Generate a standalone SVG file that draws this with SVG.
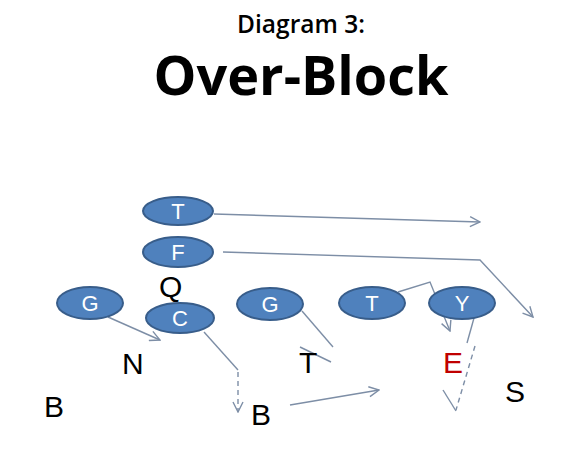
<svg xmlns="http://www.w3.org/2000/svg" width="570" height="457" viewBox="0 0 570 457">
<style>
.pl ellipse{fill:#4f81bd;stroke:#385d8a;stroke-width:2}
.pl text{fill:#fff;font-family:"Liberation Sans",Arial,sans-serif;font-size:22px;text-anchor:middle}
.lbl{font-family:"Liberation Sans",Arial,sans-serif;font-size:30px;fill:#000}
.ln{fill:none;stroke:#7d8ea6;stroke-width:1.4}
.dash{stroke-dasharray:5,4}
.title{font-family:"Open Sans","Liberation Sans",sans-serif;text-anchor:middle;fill:#000}
</style>
<defs>
<marker id="ah" markerWidth="12" markerHeight="12" refX="11" refY="6" orient="auto" markerUnits="userSpaceOnUse">
<path d="M1,1 L11,6 L1,11" fill="none" stroke="#7d8ea6" stroke-width="1.4"/>
</marker>
</defs>
<rect width="570" height="457" fill="#fff"/>
<text class="title" x="301" y="33" font-size="24.5" font-weight="600">Diagram 3:</text>
<text class="title" x="301" y="95" font-size="54" font-weight="bold">Over-Block</text>

<g id="connectors">
<path class="ln" d="M214,214 L480,222" marker-end="url(#ah)"/>
<path class="ln" d="M223,252 L480,260 L533,317" marker-end="url(#ah)"/>
<path class="ln" d="M108,317 L160,340" marker-end="url(#ah)"/>
<path class="ln" d="M204,332 L238,370"/>
<path class="ln dash" d="M238,372 L238,412" marker-end="url(#ah)"/>
<path class="ln" d="M290,405 L379,390" marker-end="url(#ah)"/>
<path class="ln" d="M302,311 L333,347"/>
<path class="ln" d="M300,347 L331,362"/>
<path class="ln" d="M398,292 L430,282 L450,331" marker-end="url(#ah)"/>
<path class="ln" d="M474,318 L467,343"/>
<path class="ln dash" d="M475,346 L456,410"/>
<path class="ln" d="M443,390 L456,411"/>
</g>

<g id="node-T-top" class="pl"><ellipse cx="178" cy="211" rx="35" ry="14"/><text x="178" y="219">T</text></g>
<g id="node-F" class="pl"><ellipse cx="178" cy="252" rx="35" ry="15"/><text x="178" y="260">F</text></g>
<g id="node-G-left" class="pl"><ellipse cx="90" cy="303" rx="33" ry="16"/><text x="90" y="311">G</text></g>
<g id="node-C" class="pl"><ellipse cx="180" cy="318" rx="34" ry="15"/><text x="180" y="326">C</text></g>
<g id="node-G-mid" class="pl"><ellipse cx="270" cy="304" rx="33" ry="16"/><text x="270" y="312">G</text></g>
<g id="node-T-right" class="pl"><ellipse cx="372" cy="303" rx="33" ry="16"/><text x="372" y="311">T</text></g>
<g id="node-Y" class="pl"><ellipse cx="462" cy="303" rx="33" ry="16"/><text x="462" y="311">Y</text></g>

<g id="label-Q"><text class="lbl" x="159" y="297" font-size="21">Q</text></g>
<g id="label-N"><text class="lbl" x="122" y="374">N</text></g>
<g id="label-B-left"><text class="lbl" x="44" y="417">B</text></g>
<g id="label-B-right"><text class="lbl" x="251" y="425">B</text></g>
<g id="label-T"><text class="lbl" x="299" y="373">T</text></g>
<g id="label-E"><text class="lbl" x="443" y="373" style="fill:#c00000">E</text></g>
<g id="label-S"><text class="lbl" x="505" y="402">S</text></g>
</svg>
